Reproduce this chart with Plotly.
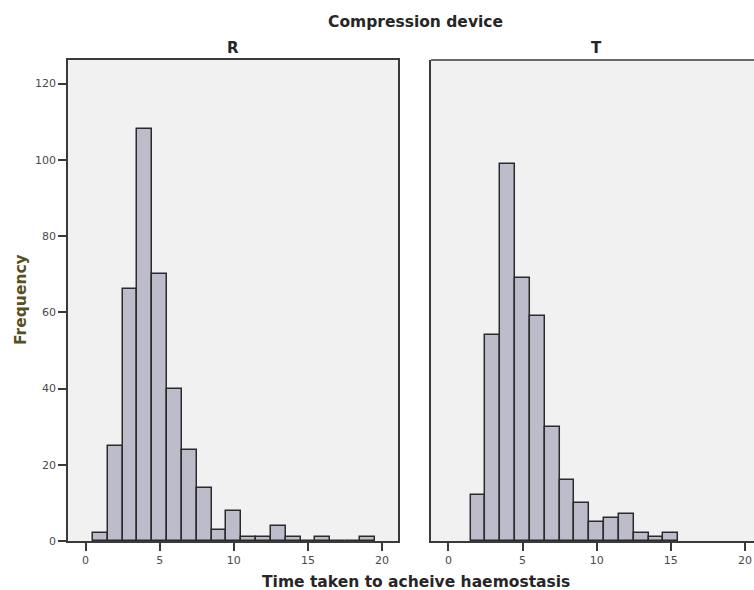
import plotly.graph_objects as go
from plotly.subplots import make_subplots

# Histogram bins (width 1, centred on whole minutes) and counts per device
bins_r = [1, 2, 3, 4, 5, 6, 7, 8, 9, 10, 11, 12, 13, 14, 15, 16, 17, 18, 19]
counts_r = [2, 25, 66, 108, 70, 40, 24, 14, 3, 8, 1, 1, 4, 1, 0, 1, 0, 0, 1]

bins_t = [2, 3, 4, 5, 6, 7, 8, 9, 10, 11, 12, 13, 14, 15]
counts_t = [12, 54, 99, 69, 59, 30, 16, 10, 5, 6, 7, 2, 1, 2]

panel_names = ["R", "T"]
x_ticks = [0, 5, 10, 15, 20]
y_ticks = [0, 20, 40, 60, 80, 100, 120]

FONT = "DejaVu Sans"
BAR_FILL = "#bcbccb"
BAR_EDGE = "#2b2b2b"
FRAME = "#3a3a3a"
PLOT_BG = "#f1f1f2"
TITLE_COLOR = "#262626"

W, H = 754, 590
M_L, M_R, M_T, M_B = 68, 0, 60, 49
PW, PH = W - M_L - M_R, H - M_T - M_B


def px_x(p):
    """Pixel column -> paper x."""
    return (p - M_L) / PW


def px_y(p):
    """Pixel row -> paper y."""
    return (H - M_B - p) / PH


fig = make_subplots(rows=1, cols=2, shared_yaxes=True, horizontal_spacing=0.0)

for col, (bx, by) in enumerate([(bins_r, counts_r), (bins_t, counts_t)], start=1):
    fig.add_trace(
        go.Bar(
            x=bx, y=by, width=1,
            marker=dict(color=BAR_FILL, line=dict(color=BAR_EDGE, width=1.5)),
            showlegend=False, hoverinfo="x+y",
        ),
        row=1, col=col,
    )

axis_common = dict(
    showgrid=False, zeroline=False, showline=True, linecolor=FRAME, linewidth=1.5,
    ticks="outside", ticklen=8, tickwidth=1.5, tickcolor=FRAME,
    tickfont=dict(family=FONT, size=11, color="#4a4a4a"),
)

fig.update_layout(
    width=W, height=H,
    margin=dict(l=M_L, r=M_R, t=M_T, b=M_B),
    paper_bgcolor="white", plot_bgcolor=PLOT_BG,
    bargap=0, font=dict(family=FONT),
    xaxis=dict(domain=[0, 0.481], range=[-1.18, 21.07], tickvals=x_ticks,
               mirror=True, **axis_common),
    xaxis2=dict(domain=[0.5292, 1.0], range=[-1.17, 20.61], tickvals=x_ticks,
                **axis_common),
    yaxis=dict(range=[0, 126.2], tickvals=y_ticks, mirror=True, **axis_common),
    yaxis2=dict(range=[0, 126.2], showticklabels=False, ticks="", showgrid=False,
                zeroline=False, showline=True, linecolor=FRAME, linewidth=1.5),
)

# Top border for the right panel (its right edge runs off the page)
fig.add_shape(type="line", xref="x2 domain", yref="y2 domain",
              x0=0, x1=1, y0=1, y1=1, line=dict(color=FRAME, width=1.5))

# Panel headings
for name, cx in zip(panel_names, [233, 596]):
    fig.add_annotation(text=f"<b>{name}</b>", xref="paper", yref="paper",
                       x=px_x(cx), y=px_y(48), xanchor="center", yanchor="middle",
                       showarrow=False,
                       font=dict(family=FONT, size=15, color=TITLE_COLOR))

# Overall titles
fig.add_annotation(text="<b>Compression device</b>", xref="paper", yref="paper",
                   x=px_x(415.5), y=px_y(22), xanchor="center", yanchor="middle",
                   showarrow=False,
                   font=dict(family=FONT, size=15.5, color=TITLE_COLOR))
fig.add_annotation(text="<b>Time taken to acheive haemostasis</b>", xref="paper",
                   yref="paper", x=px_x(416), y=px_y(582), xanchor="center",
                   yanchor="middle", showarrow=False,
                   font=dict(family=FONT, size=15.5, color=TITLE_COLOR))
fig.add_annotation(text="<b>Frequency</b>", xref="paper", yref="paper",
                   x=px_x(21), y=px_y(300), xanchor="center", yanchor="middle",
                   textangle=-90, showarrow=False,
                   font=dict(family=FONT, size=15.5, color="#57501f"))

fig.write_html("out.html")
